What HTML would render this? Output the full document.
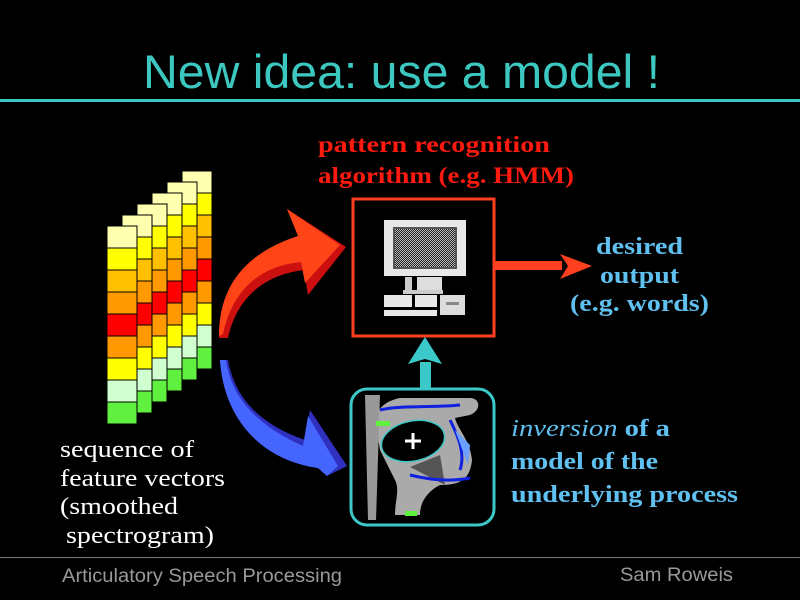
<!DOCTYPE html>
<html><head><meta charset="utf-8"><style>
html,body{margin:0;padding:0;background:#000;}
svg{display:block}
</style></head><body>
<svg width="800" height="600" viewBox="0 0 800 600" xmlns="http://www.w3.org/2000/svg">
<rect width="800" height="600" fill="#000"/>
<text x="143" y="88" textLength="517" lengthAdjust="spacingAndGlyphs" font-family="Liberation Sans, sans-serif" font-size="47" fill="#3cc8c0">New idea: use a model !</text>
<rect x="0" y="99" width="800" height="3" fill="#3cc8c0"/>
<rect x="0" y="557" width="800" height="1" fill="#777"/>
<text x="62" y="582" textLength="280" lengthAdjust="spacingAndGlyphs" font-family="Liberation Sans, sans-serif" font-size="19" fill="#999">Articulatory Speech Processing</text>
<text x="620" y="581" textLength="113" lengthAdjust="spacingAndGlyphs" font-family="Liberation Sans, sans-serif" font-size="19" fill="#999">Sam Roweis</text>

<defs>
<pattern id="chk" width="2" height="2" patternUnits="userSpaceOnUse">
<rect width="2" height="2" fill="#222"/><rect width="1" height="1" fill="#bbb"/><rect x="1" y="1" width="1" height="1" fill="#bbb"/>
</pattern>
<g id="col">
<rect x="0" y="0" width="30" height="22" fill="#ffffb0" stroke="#000" stroke-width="1"/>
<rect x="0" y="22" width="30" height="22" fill="#ffff00" stroke="#000" stroke-width="1"/>
<rect x="0" y="44" width="30" height="22" fill="#ffc000" stroke="#000" stroke-width="1"/>
<rect x="0" y="66" width="30" height="22" fill="#ff9900" stroke="#000" stroke-width="1"/>
<rect x="0" y="88" width="30" height="22" fill="#ff0000" stroke="#000" stroke-width="1"/>
<rect x="0" y="110" width="30" height="22" fill="#ff9900" stroke="#000" stroke-width="1"/>
<rect x="0" y="132" width="30" height="22" fill="#ffff00" stroke="#000" stroke-width="1"/>
<rect x="0" y="154" width="30" height="22" fill="#d0ffd0" stroke="#000" stroke-width="1"/>
<rect x="0" y="176" width="30" height="22" fill="#60f040" stroke="#000" stroke-width="1"/>
</g>
</defs>
<use href="#col" x="182" y="171"/>
<use href="#col" x="167" y="182"/>
<use href="#col" x="152" y="193"/>
<use href="#col" x="137" y="204"/>
<use href="#col" x="122" y="215"/>
<use href="#col" x="107" y="226"/>

<g font-family="Liberation Serif, serif" font-size="24" fill="#fff">
<text x="60" y="457" textLength="134" lengthAdjust="spacingAndGlyphs">sequence of</text>
<text x="60" y="486" textLength="165" lengthAdjust="spacingAndGlyphs">feature vectors</text>
<text x="60" y="514" textLength="118" lengthAdjust="spacingAndGlyphs">(smoothed</text>
<text x="66" y="543" textLength="148" lengthAdjust="spacingAndGlyphs">spectrogram)</text>
</g>

<path d="M219 338 C219 290 245 255 300 238 L287 209 L346 247 L308 295 L304 270 C262 275 236 300 228 338 Z" fill="#cc1010"/>
<path d="M219 336 C219 288 243 254 298 236 L287 209 L340 245 L305 283 L301 262 C258 266 232 292 223 334 Z" fill="#ff4418"/>
<path d="M220 360 L228 360 C235 400 262 425 305 440 L310 410 L347 466 L327 476 L318 468 C262 460 224 420 220 360 Z" fill="#3030c0"/>
<path d="M220 360 L226 360 C231 398 258 426 303 446 L308 416 L338 466 L327 476 L318 468 C262 460 224 420 220 360 Z" fill="#4466ff"/>

<g font-family="Liberation Serif, serif" font-size="23" font-weight="bold" fill="#ff1a10">
<text x="318" y="152" textLength="232" lengthAdjust="spacingAndGlyphs">pattern recognition</text>
<text x="318" y="183" textLength="256" lengthAdjust="spacingAndGlyphs">algorithm (e.g. HMM)</text>
</g>

<rect x="353" y="199" width="141" height="137" fill="#000" stroke="#ff4020" stroke-width="3"/>
<rect x="384" y="220" width="82" height="56" fill="#e8e8e8"/>
<rect x="393" y="227" width="64" height="42" fill="#555"/>
<rect x="395" y="229" width="60" height="38" fill="url(#chk)"/>
<rect x="405" y="277" width="7" height="13" fill="#ccc"/>
<rect x="417" y="277" width="25" height="13" fill="#ddd"/>
<rect x="403" y="290" width="40" height="4" fill="#ccc"/>
<rect x="384" y="295" width="28" height="12" fill="#e8e8e8"/>
<rect x="415" y="295" width="22" height="12" fill="#e8e8e8"/>
<rect x="440" y="295" width="25" height="20" fill="#ddd"/>
<rect x="446" y="302" width="13" height="3" fill="#888"/>
<rect x="384" y="310" width="53" height="6" fill="#e8e8e8"/>

<rect x="494" y="261" width="68" height="9" fill="#ff4020"/>
<path d="M560 254 L592 266 L560 279 L568 266 Z" fill="#ff4020"/>
<rect x="420" y="362" width="11" height="28" fill="#3cc8c8"/>
<path d="M408 364 L425 337 L442 364 L425 359 Z" fill="#3cc8c8"/>

<rect x="351" y="389" width="143" height="136" rx="16" fill="#000" stroke="#3cc8c8" stroke-width="3"/>
<path d="M375 420 C378 405 390 400 400 398 L470 398 C480 398 482 410 470 415 L455 418 C458 430 470 440 472 460 C470 480 460 485 440 485 C430 490 420 500 420 515 L395 515 C395 500 400 490 395 480 C390 470 385 460 380 450 Z" fill="#aaa"/>
<path d="M410 467 L440 455 L445 485 Z" fill="#555"/>
<path d="M365 395 L368 520 L376 520 L380 395 Z" fill="#999"/>
<ellipse cx="413" cy="441" rx="32" ry="20" fill="#000" stroke="#3cc8c8" stroke-width="1.5" transform="rotate(-12 413 441)"/>
<path d="M405 441 L421 441 M413 433 L413 449" stroke="#fff" stroke-width="3"/>
<path d="M380 410 C400 405 430 408 460 405 M450 420 C460 440 465 455 460 470 M410 475 C430 480 450 482 470 478" stroke="#1020e0" stroke-width="3" fill="none"/>
<path d="M455 430 L470 445 L468 465 Z" fill="#6aa0ff"/>
<rect x="376" y="421" width="14" height="5" fill="#60f040"/>
<rect x="405" y="511" width="12" height="5" fill="#60f040"/>

<g font-family="Liberation Serif, serif" font-size="24" font-weight="bold" fill="#60c0f0">
<text x="596" y="254" textLength="87" lengthAdjust="spacingAndGlyphs">desired</text>
<text x="600" y="283" textLength="79" lengthAdjust="spacingAndGlyphs">output</text>
<text x="570" y="311" textLength="139" lengthAdjust="spacingAndGlyphs">(e.g. words)</text>
<text x="511" y="436" textLength="159" lengthAdjust="spacingAndGlyphs"><tspan font-style="italic" font-weight="normal">inversion</tspan> of a</text>
<text x="511" y="469" textLength="147" lengthAdjust="spacingAndGlyphs">model of the</text>
<text x="511" y="502" textLength="227" lengthAdjust="spacingAndGlyphs">underlying process</text>
</g>
</svg>
</body></html>
